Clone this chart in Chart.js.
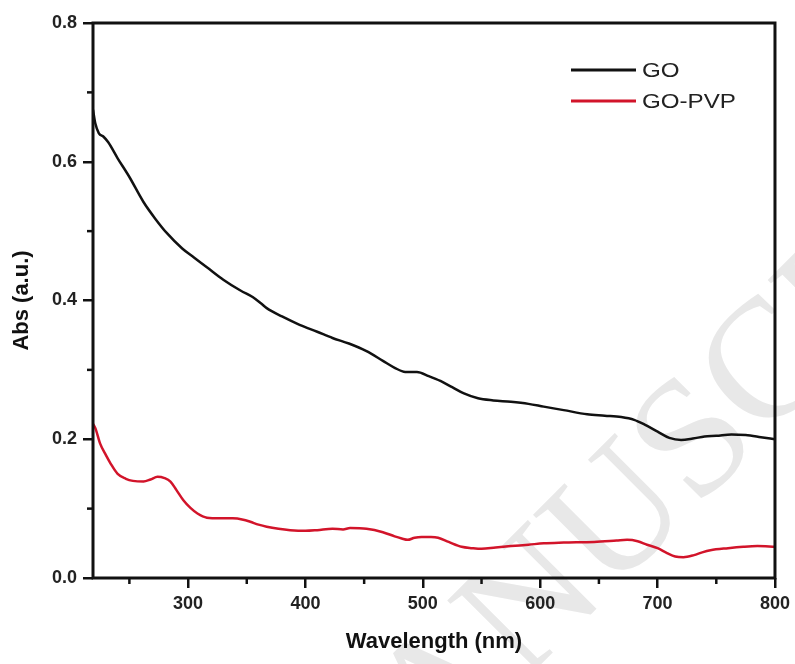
<!DOCTYPE html>
<html>
<head>
<meta charset="utf-8">
<title>UV-Vis absorbance of GO and GO-PVP</title>
<script src="https://cdn.jsdelivr.net/npm/chart.js@4.4.1/dist/chart.umd.min.js"></script>
<style>
  html, body { margin: 0; padding: 0; background: #fff; }
  #wrap { width: 795px; height: 664px; }
</style>
</head>
<body>
<div id="wrap"><canvas id="uvChart" width="795" height="664"></canvas></div>
<script>
// spectra (wavelength in nm, absorbance in a.u.)
var goWavelength = [219, 221, 224, 228, 232, 240, 250, 262, 272, 282, 295, 305, 316, 330, 345, 355, 362, 367, 380, 395,
    410, 423, 437, 452, 466, 476, 485, 495, 505, 515, 525, 535, 547, 560, 575, 590, 603, 620, 640, 655,
    669, 680, 689, 700, 710, 720, 730, 740, 750, 763, 775, 788, 800];
var goAbs = [0.675, 0.655, 0.641, 0.636, 0.628, 0.605, 0.578, 0.542, 0.518, 0.497, 0.475, 0.462, 0.448, 0.430, 0.414, 0.405, 0.396, 0.389, 0.377, 0.365,
    0.355, 0.346, 0.338, 0.327, 0.313, 0.303, 0.297, 0.297, 0.291, 0.284, 0.275, 0.266, 0.259, 0.256, 0.254, 0.251, 0.247, 0.242, 0.236, 0.234,
    0.232, 0.228, 0.221, 0.211, 0.202, 0.199, 0.201, 0.204, 0.205, 0.207, 0.206, 0.203, 0.200];

var pvpWavelength = [219, 221, 225, 230, 234, 240, 247, 253, 262, 268, 274, 280, 285, 290, 296, 302, 308, 316, 327, 338,
    347, 353, 360, 367, 377, 387, 400, 410, 423, 432, 438, 452, 466, 476, 482, 487, 493, 499, 507, 513,
    522, 533, 542, 550, 562, 575, 590, 603, 620, 646, 665, 674, 683, 691, 700, 708, 715, 722, 731, 738,
    745, 760, 773, 785, 800];
var pvpAbs = [0.222, 0.216, 0.194, 0.177, 0.165, 0.150, 0.143, 0.140, 0.139, 0.142, 0.146, 0.144, 0.139, 0.127, 0.112, 0.101, 0.093, 0.087, 0.086, 0.086,
    0.084, 0.081, 0.077, 0.074, 0.071, 0.069, 0.068, 0.069, 0.071, 0.070, 0.072, 0.071, 0.066, 0.060, 0.057, 0.055, 0.058, 0.059, 0.059, 0.058,
    0.052, 0.045, 0.043, 0.042, 0.044, 0.046, 0.048, 0.050, 0.051, 0.052, 0.054, 0.055, 0.053, 0.048, 0.043, 0.036, 0.031, 0.030, 0.033, 0.037,
    0.040, 0.043, 0.045, 0.046, 0.045];

var seriesNames = ["GO", "GO-PVP"];
var xTicks = [250, 300, 350, 400, 450, 500, 550, 600, 650, 700, 750, 800];
var yTicks = [0, 0.1, 0.2, 0.3, 0.4, 0.5, 0.6, 0.7, 0.8];

function toPoints(xs, ys){
    return xs.map((x, i) => ({x: x, y: ys[i]}));
}

function isMajorX(v){ return v % 100 === 0; }
function isMajorY(v){ return Math.round(v * 10) % 2 === 0; }

var tickFont = {family: "'Liberation Sans', Arial, sans-serif", size: 18, weight: "bold"};
var titleFont = {family: "'Liberation Sans', Arial, sans-serif", size: 22, weight: "bold"};

// faint diagonal stamp behind the plot
const stamp = {
    id: "stamp",
    beforeDraw(chart){
        var ctx = chart.ctx;
        ctx.save();
        ctx.font = "170px 'Liberation Serif', serif";
        ctx.fillStyle = "#e8e8e8";
        var text = "ACCEPTED MANUSCRIPT";
        var lead = ctx.measureText("ACCEPTED MAN").width + ctx.measureText("U").width / 2;
        ctx.translate(613, 513);
        ctx.rotate(-45 * Math.PI / 180);
        ctx.fillText(text, -lead, 56);
        ctx.restore();
    }
};

// box frame, short minor ticks and the legend
const frame = {
    id: "frame",
    afterDatasetsDraw(chart){
        var ctx = chart.ctx;
        var a = chart.chartArea;
        var xs = chart.scales.x, ys = chart.scales.y;

        ctx.save();
        ctx.strokeStyle = "#111";
        ctx.lineWidth = 2.5;
        xs.ticks.forEach(t => {
            if(isMajorX(t.value)) return;
            var px = xs.getPixelForValue(t.value);
            ctx.beginPath(); ctx.moveTo(px, a.bottom); ctx.lineTo(px, a.bottom + 6); ctx.stroke();
        });
        ys.ticks.forEach(t => {
            if(isMajorY(t.value)) return;
            var py = ys.getPixelForValue(t.value);
            ctx.beginPath(); ctx.moveTo(a.left - 6, py); ctx.lineTo(a.left, py); ctx.stroke();
        });
        ctx.lineWidth = 3;
        ctx.strokeRect(a.left, a.top, a.right - a.left, a.bottom - a.top);
        ctx.restore();

        chart.data.datasets.forEach((ds, i) => {
            var y = 70 + i * 31;
            ctx.save();
            ctx.strokeStyle = ds.borderColor;
            ctx.lineWidth = 3;
            ctx.beginPath(); ctx.moveTo(571, y); ctx.lineTo(636, y); ctx.stroke();
            ctx.translate(642, y);
            ctx.scale(1.15, 1);
            ctx.font = "21px 'Liberation Sans', Arial, sans-serif";
            ctx.fillStyle = "#222";
            ctx.textBaseline = "middle";
            ctx.fillText(ds.label, 0, 1);
            ctx.restore();
        });
    }
};

new Chart(document.getElementById("uvChart"), {
    type: "line",
    data: {
        datasets: [{
            label: seriesNames[0],
            data: toPoints(goWavelength, goAbs),
            borderColor: "#111111",
            borderWidth: 2.5,
            pointRadius: 0,
            cubicInterpolationMode: "monotone",
            fill: false,
        },{
            label: seriesNames[1],
            data: toPoints(pvpWavelength, pvpAbs),
            borderColor: "#d2142a",
            borderWidth: 2.5,
            pointRadius: 0,
            cubicInterpolationMode: "monotone",
            fill: false,
        }]
    },
    options: {
        responsive: false,
        animation: false,
        events: [],
        layout: {padding: {left: 0, right: 19, top: 23, bottom: 0}},
        plugins: {
            legend: {display: false},
            tooltip: {enabled: false},
        },
        scales: {
            x: {
                type: "linear",
                min: 219,
                max: 800,
                afterBuildTicks: s => { s.ticks = xTicks.map(v => ({value: v})); },
                afterFit: s => { s.height = 86; },
                border: {display: false},
                grid: {
                    drawOnChartArea: false,
                    tickLength: 10,
                    lineWidth: 2.5,
                    color: c => (c.tick && isMajorX(c.tick.value)) ? "#111" : "rgba(0,0,0,0)",
                },
                ticks: {
                    autoSkip: false,
                    maxRotation: 0,
                    padding: 5,
                    color: "#222",
                    font: tickFont,
                    callback: v => isMajorX(v) ? String(v) : "",
                },
                title: {
                    display: true,
                    text: "Wavelength (nm)",
                    color: "#111",
                    font: titleFont,
                    padding: {top: 0, bottom: 9},
                }
            },
            y: {
                type: "linear",
                min: 0,
                max: 0.8,
                afterBuildTicks: s => { s.ticks = yTicks.map(v => ({value: v})); },
                afterFit: s => { s.width = 93; },
                border: {display: false},
                grid: {
                    drawOnChartArea: false,
                    tickLength: 10,
                    lineWidth: 2.5,
                    color: c => (c.tick && isMajorY(c.tick.value)) ? "#111" : "rgba(0,0,0,0)",
                },
                ticks: {
                    autoSkip: false,
                    padding: 6,
                    color: "#222",
                    font: tickFont,
                    callback: v => isMajorY(v) ? v.toFixed(1) : "",
                },
                title: {
                    display: true,
                    text: "Abs (a.u.)",
                    color: "#111",
                    font: titleFont,
                    padding: {top: 9, bottom: 0},
                }
            }
        }
    },
    plugins: [stamp, frame]
});
</script>
</body>
</html>
